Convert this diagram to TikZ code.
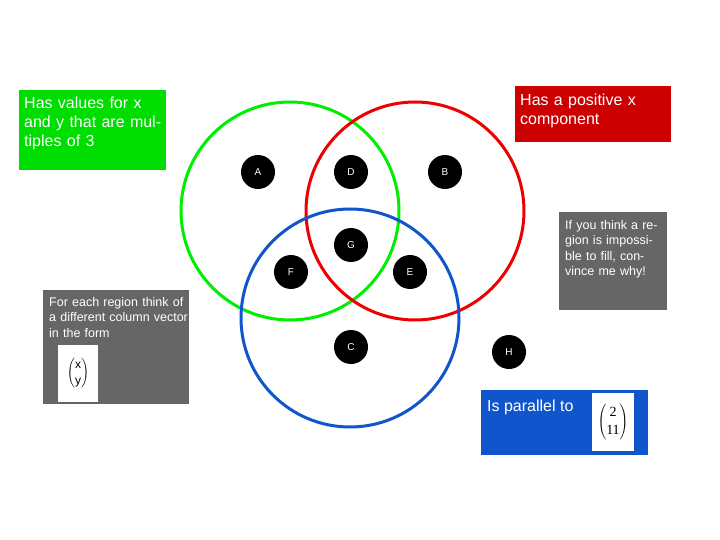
\documentclass[tikz,border=0pt]{standalone}
\usepackage{fontspec}
\setmainfont{Liberation Sans}
\newfontfamily\serifm{Liberation Serif}
\begin{document}
\begin{tikzpicture}[x=1pt,y=-1pt,
  dot/.style={circle,fill=black,minimum size=34pt,inner sep=0pt,text=white,font=\fontsize{10}{12}\selectfont},
  ring/.style={line width=3pt},
  box/.style={anchor=north west,text=white,align=left,inner sep=4pt,font=\fontsize{16}{19}\selectfont},
  sbox/.style={anchor=north west,text=white,align=left,inner sep=5pt,font=\fontsize{12.5}{15.5}\selectfont}]
\useasboundingbox (0,0) rectangle (720,540);
\fill[white] (0,0) rectangle (720,540);
\draw[ring,color={rgb,255:red,0;green,238;blue,0}] (290,211) circle (109);
\draw[ring,color={rgb,255:red,238;green,0;blue,0}] (415,211) circle (109);
\draw[ring,color={rgb,255:red,17;green,85;blue,204}] (350,318) circle (109);
\node[dot] (A) at (258,172) {A};
\node[dot] (D) at (351,172) {D};
\node[dot] (B) at (445,172) {B};
\node[dot] (G) at (351,245) {G};
\node[dot] (F) at (291,272) {F};
\node[dot] (E) at (410,272) {E};
\node[dot] (C) at (351,347) {C};
\node[dot] (H) at (509,352) {H};
\fill[color={rgb,255:red,0;green,221;blue,0}] (19,90) rectangle (166,170);
\node[box,text width=139pt] (g) at (20,93) {Has values for x and y that are multiples of 3};
\fill[color={rgb,255:red,204;green,0;blue,0}] (515,86) rectangle (671,142);
\node[box,text width=148pt] (r) at (516,90) {Has a positive x component};
\fill[color={rgb,255:red,102;green,102;blue,102}] (559,212) rectangle (667,310);
\node[sbox,text width=98pt] (q) at (560,215) {If you think a region is impossible to fill, convince me why!};
\fill[color={rgb,255:red,102;green,102;blue,102}] (43,290) rectangle (189,404);
\node[sbox,text width=140pt] (p) at (44,292) {For each region think of a different column vector in the form};
\fill[white] (58,345) rectangle (98,402);
\node (m1) at (78,373) {$\left(\vcenter{\hbox{\fontsize{12}{16}\selectfont\begin{tabular}{@{}c@{}}x\\y\end{tabular}}}\right)$};
\fill[color={rgb,255:red,17;green,85;blue,204}] (481,390) rectangle (648,455);
\node[box] (bl) at (483,396) {Is parallel to};
\fill[white] (592,393) rectangle (634,451);
\node (m2) at (613,422) {\serifm$\left(\vcenter{\hbox{\fontsize{14}{18}\selectfont\begin{tabular}{@{}c@{}}2\\11\end{tabular}}}\right)$};
\end{tikzpicture}
\end{document}
